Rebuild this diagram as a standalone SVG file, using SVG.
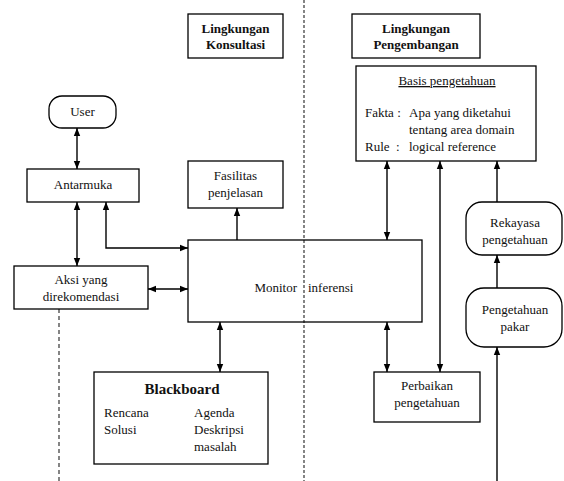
<svg xmlns="http://www.w3.org/2000/svg" width="564" height="481" viewBox="0 0 564 481">
<defs>
<marker id="ah" markerWidth="8" markerHeight="8" viewBox="0 0 8 8" refX="8" refY="4" orient="auto-start-reverse" markerUnits="userSpaceOnUse">
<path d="M0,0.8 L8,4 L0,7.2 Z" fill="#000"/>
</marker>
<style>
.box{fill:#fff;stroke:#000;stroke-width:1.3}
.t{font-size:13px;fill:#111}
.c{text-anchor:middle}
.b{font-weight:bold}
.con{fill:none;stroke:#000;stroke-width:1.4}
.dash{fill:none;stroke:#444;stroke-width:1.3}
</style>
</defs>
<rect width="564" height="481" fill="#fff"/>
<g id="dividers">
<line class="dash" x1="304" y1="0" x2="304" y2="481" stroke-dasharray="3,2"/>
<line class="dash" x1="59" y1="309" x2="59" y2="481" stroke-dasharray="4,3"/>
</g>
<g font-family="'Liberation Serif', 'DejaVu Serif', serif">
<g id="monitor">
<rect class="box" x="188" y="240" width="234" height="82" style="fill:none"/>
<text class="t" x="297" y="292" text-anchor="end">Monitor</text>
<text class="t" x="308" y="292">inferensi</text>
</g>
<g id="konsultasi">
<rect class="box" x="188" y="14" width="95" height="44"/>
<text class="t c b" x="235.5" y="33">Lingkungan</text>
<text class="t c b" x="235.5" y="49">Konsultasi</text>
</g>
<g id="pengembangan">
<rect class="box" x="352" y="14" width="128" height="44"/>
<text class="t c b" x="416" y="33">Lingkungan</text>
<text class="t c b" x="416" y="49">Pengembangan</text>
</g>
<g id="user">
<rect class="box" x="49" y="96" width="67" height="32" rx="13"/>
<text class="t c" x="82.5" y="116">User</text>
</g>
<g id="antarmuka">
<rect class="box" x="27" y="169" width="112" height="33"/>
<text class="t c" x="83" y="189">Antarmuka</text>
</g>
<g id="fasilitas">
<rect class="box" x="188" y="161" width="95" height="47"/>
<text class="t c" x="235.5" y="180">Fasilitas</text>
<text class="t c" x="235.5" y="197">penjelasan</text>
</g>
<g id="aksi">
<rect class="box" x="14" y="266" width="134" height="43"/>
<text class="t c" x="81" y="284">Aksi yang</text>
<text class="t c" x="81" y="301">direkomendasi</text>
</g>
<g id="blackboard">
<rect class="box" x="94" y="372" width="174" height="92"/>
<text class="t c b" x="182" y="394" style="font-size:15px">Blackboard</text>
<text class="t" x="104" y="417">Rencana</text>
<text class="t" x="104" y="434">Solusi</text>
<text class="t" x="194" y="417">Agenda</text>
<text class="t" x="194" y="434">Deskripsi</text>
<text class="t" x="194" y="451">masalah</text>
</g>
<g id="basis">
<rect class="box" x="356" y="66" width="180" height="95"/>
<text class="t c" x="447" y="85" text-decoration="underline">Basis pengetahuan</text>
<text class="t" x="365" y="117">Fakta :</text>
<text class="t" x="409" y="117">Apa yang diketahui</text>
<text class="t" x="409" y="134">tentang area domain</text>
<text class="t" x="365" y="151">Rule</text>
<text class="t" x="396" y="151">:</text>
<text class="t" x="409" y="151">logical reference</text>
</g>
<g id="perbaikan">
<rect class="box" x="374" y="372" width="106" height="50"/>
<text class="t c" x="427" y="390">Perbaikan</text>
<text class="t c" x="427" y="407">pengetahuan</text>
</g>
<g id="rekayasa">
<rect class="box" x="466" y="202" width="96" height="53" rx="16"/>
<text class="t c" x="515" y="227">Rekayasa</text>
<text class="t c" x="515" y="244">pengetahuan</text>
</g>
<g id="pakar">
<rect class="box" x="466" y="288" width="96" height="59" rx="18"/>
<text class="t c" x="515" y="314">Pengetahuan</text>
<text class="t c" x="515" y="331">pakar</text>
</g>
</g>
<g id="connectors">
<line class="con" x1="77" y1="128" x2="77" y2="169" marker-start="url(#ah)" marker-end="url(#ah)"/>
<line class="con" x1="77" y1="202" x2="77" y2="266" marker-start="url(#ah)" marker-end="url(#ah)"/>
<polyline class="con" points="106,202 106,248 188,248" marker-start="url(#ah)" marker-end="url(#ah)"/>
<line class="con" x1="148" y1="289" x2="188" y2="289" marker-start="url(#ah)" marker-end="url(#ah)"/>
<line class="con" x1="237" y1="240" x2="237" y2="208" marker-end="url(#ah)"/>
<line class="con" x1="220" y1="322" x2="220" y2="372" marker-start="url(#ah)" marker-end="url(#ah)"/>
<line class="con" x1="387" y1="161" x2="387" y2="240" marker-start="url(#ah)" marker-end="url(#ah)"/>
<line class="con" x1="387" y1="322" x2="387" y2="372" marker-start="url(#ah)" marker-end="url(#ah)"/>
<line class="con" x1="440" y1="161" x2="440" y2="372" marker-start="url(#ah)" marker-end="url(#ah)"/>
<line class="con" x1="497" y1="202" x2="497" y2="161" marker-end="url(#ah)"/>
<line class="con" x1="497" y1="288" x2="497" y2="255" marker-end="url(#ah)"/>
<line class="con" x1="497" y1="481" x2="497" y2="347" marker-end="url(#ah)"/>
</g>
</svg>
